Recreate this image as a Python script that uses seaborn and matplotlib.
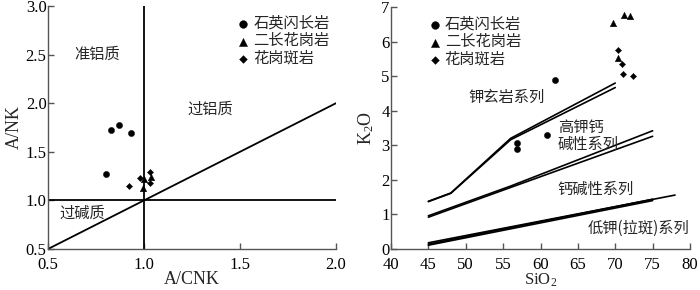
import matplotlib
matplotlib.use("Agg")
import matplotlib.pyplot as plt
import seaborn as sns
import pandas as pd

sns.set_theme(style="ticks")
plt.rcParams['font.family'] = ['Liberation Serif', 'Noto Sans CJK SC']
plt.rcParams['mathtext.fontset'] = 'custom'
plt.rcParams['mathtext.rm'] = 'Liberation Serif'
plt.rcParams['mathtext.it'] = 'Liberation Serif:italic'

# ---- data ----
rock_types = ["石英闪长岩", "二长花岗岩", "花岗斑岩"]
markers = {"石英闪长岩": "o", "二长花岗岩": "^", "花岗斑岩": "D"}
msize = {"石英闪长岩": 20, "二长花岗岩": 22, "花岗斑岩": 10}

# Left panel: A/CNK vs A/NK
acnk_qd = [0.80, 0.83, 0.87, 0.93]
ank_qd = [1.27, 1.72, 1.78, 1.69]
acnk_mg = [0.995, 1.00, 1.035]
ank_mg = [1.125, 1.22, 1.245]
acnk_gp = [0.92, 0.98, 1.03, 1.033]
ank_gp = [1.15, 1.235, 1.18, 1.295]

# Right panel: SiO2 vs K2O
sio2_qd = [56.8, 56.9, 60.9, 62.0]
k2o_qd = [3.07, 2.88, 3.30, 4.88]
sio2_mg = [69.7, 71.2, 72.0, 70.4]
k2o_mg = [6.54, 6.78, 6.75, 5.53]
sio2_gp = [70.4, 70.9, 71.1, 72.4]
k2o_gp = [5.75, 5.35, 5.05, 5.00]

# Boundary lines (SiO2, K2O)
sho_a_x = [45, 48, 56, 70]; sho_a_y = [1.38, 1.62, 3.20, 4.80]
sho_b_x = [45, 48, 56, 70]; sho_b_y = [1.37, 1.61, 3.16, 4.67]
hk_a_x = [45, 56, 75]; hk_a_y = [0.96, 1.82, 3.42]
hk_b_x = [45, 56, 75]; hk_b_y = [0.92, 1.78, 3.26]
lk_a_x = [45, 78]; lk_a_y = [0.18, 1.56]
lk_b_x = [45, 75]; lk_b_y = [0.14, 1.44]
lk_c_x = [45, 75]; lk_c_y = [0.11, 1.40]

left_xticks = [0.5, 1.0, 1.5, 2.0]
left_yticks = [0.5, 1.0, 1.5, 2.0, 2.5, 3.0]
right_xticks = [40, 45, 50, 55, 60, 65, 70, 75, 80]
right_yticks = [0, 1, 2, 3, 4, 5, 6, 7]

df_left = pd.DataFrame({
    "x": acnk_qd + acnk_mg + acnk_gp,
    "y": ank_qd + ank_mg + ank_gp,
    "rock": [rock_types[0]] * 4 + [rock_types[1]] * 3 + [rock_types[2]] * 4,
})
df_right = pd.DataFrame({
    "x": sio2_qd + sio2_mg + sio2_gp,
    "y": k2o_qd + k2o_mg + k2o_gp,
    "rock": [rock_types[0]] * 4 + [rock_types[1]] * 4 + [rock_types[2]] * 4,
})

fig = plt.figure(figsize=(7.0, 2.9), dpi=100)
axL = fig.add_axes([48/700, 1-249/290, 288/700, 243/290])
axR = fig.add_axes([391/700, 1-249/290, 299/700, 242/290])

spine_col = "#555555"
lw = 1.3
cjk = ['Noto Sans CJK SC', 'Liberation Serif']

def style_axes(ax):
    for s in ["top", "right"]:
        ax.spines[s].set_visible(False)
    for s in ["left", "bottom"]:
        ax.spines[s].set_color(spine_col)
        ax.spines[s].set_linewidth(1.0)
    ax.tick_params(direction="in", length=4, width=1.0, color=spine_col,
                   labelsize=12, labelcolor="black")
    ax.tick_params(axis="x", pad=6)
    ax.tick_params(axis="y", pad=1)

def scatter_groups(ax, df):
    for r in rock_types:
        sub = df[df["rock"] == r]
        sns.scatterplot(data=sub, x="x", y="y", marker=markers[r], color="black",
                        s=msize[r], edgecolor="black", linewidth=0.3, ax=ax, label=r)

def add_legend(ax, anchor):
    ax.legend(loc="upper left", bbox_to_anchor=anchor, frameon=False,
              prop={"family": cjk, "size": 11}, handletextpad=0.15,
              labelspacing=0.04, markerscale=1.25, borderpad=0.2,
              handlelength=1.0, handleheight=0.5)

# ---- left ----
axL.plot([1.0, 1.0], [0.5, 3.0], color="black", lw=lw)
axL.plot([0.5, 2.0], [1.0, 1.0], color="black", lw=lw)
axL.plot([0.5, 2.0], [0.5, 2.0], color="black", lw=lw)
scatter_groups(axL, df_left)
axL.set_xlim(0.5, 2.0)
axL.set_ylim(0.5, 3.0)
axL.set_xticks(left_xticks)
axL.set_yticks(left_yticks)
axL.set_xticklabels([f"{v:.1f}" for v in left_xticks])
axL.set_yticklabels([f"{v:.1f}" for v in left_yticks])
axL.set_xlabel("A/CNK", fontsize=13, labelpad=-1.5)
axL.set_ylabel("A/NK", fontsize=13, labelpad=2)
style_axes(axL)
axL.text(0.757, 2.5, "准铝质", family=cjk, fontsize=11, ha="center", va="center")
axL.text(1.346, 1.94, "过铝质", family=cjk, fontsize=11, ha="center", va="center")
axL.text(0.68, 0.87, "过碱质", family=cjk, fontsize=11, ha="center", va="center")
add_legend(axL, (0.615, 1.01))

# ---- right ----
for xs, ys in [(sho_a_x, sho_a_y), (sho_b_x, sho_b_y), (hk_a_x, hk_a_y),
               (hk_b_x, hk_b_y), (lk_a_x, lk_a_y), (lk_b_x, lk_b_y), (lk_c_x, lk_c_y)]:
    axR.plot(xs, ys, color="black", lw=1.2)
scatter_groups(axR, df_right)
axR.set_xlim(40, 80)
axR.set_ylim(0, 7)
axR.set_xticks(right_xticks)
axR.set_yticks(right_yticks)
axR.set_xlabel("SiO$_2$", fontsize=12, labelpad=-1.5)
axR.set_ylabel("K$_2$O", fontsize=13, labelpad=4)
style_axes(axR)
axR.text(55.5, 4.4, "钾玄岩系列", family=cjk, fontsize=11, ha="center", va="center")
axR.text(62.3, 3.27, "高钾钙\n碱性系列", family=cjk, fontsize=11, ha="left", va="center",
         linespacing=0.95)
axR.text(62.3, 1.74, "钙碱性系列", family=cjk, fontsize=11, ha="left", va="center")
axR.text(66.3, 0.59, "低钾(拉斑)系列", family=cjk, fontsize=11, ha="left", va="center")
add_legend(axR, (0.085, 1.01))

fig.savefig("out.png", dpi=100)
